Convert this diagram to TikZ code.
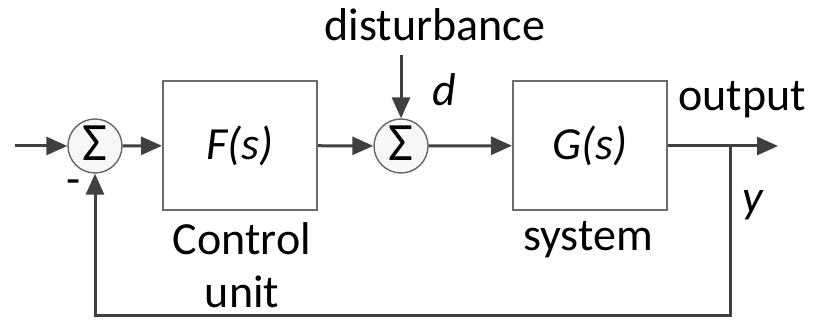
\documentclass[tikz,border=0pt]{standalone}
\usepackage{fontspec}
\setmainfont{Carlito}
\usetikzlibrary{arrows.meta}
\begin{document}
\begin{tikzpicture}[x=1pt,y=-1pt,
  lbl/.style={font=\fontsize{46}{52}\selectfont, text=black, inner sep=0pt},
  ilbl/.style={lbl, font=\fontsize{46}{52}\selectfont\itshape},
  sumnode/.style={circle, draw=gray!80!black, line width=1.4pt, fill=gray!6, minimum size=54pt, inner sep=0pt, font=\fontsize{54}{56}\selectfont},
  blockbox/.style={draw=gray!85!black, line width=2pt, minimum width=154pt, minimum height=129pt, inner sep=0pt},
  sig/.style={draw=black!75, line width=3pt, -{Triangle[length=21pt,width=18pt]}}
]
\useasboundingbox (0,0) rectangle (816,320);
% nodes
\coordinate (in) at (15,146);
\node[sumnode] (s1) at (95,146) {};
\node[inner sep=0pt, font=\fontsize{54}{56}\selectfont] (s1t) at (95,143) {Σ};
\node[blockbox] (F) at (240,145.5) {};
\node[ilbl] (Ft) at (240,146) {F(s)};
\node[sumnode] (s2) at (401,146) {};
\node[inner sep=0pt, font=\fontsize{54}{56}\selectfont] (s2t) at (401,143) {Σ};
\node[blockbox] (G) at (590,145.5) {};
\node[ilbl] (Gt) at (590,146) {G(s)};
\coordinate (br) at (730,146);
\coordinate (out) at (778,146);
\coordinate (bl) at (730,315);
\coordinate (fl) at (95,315);
\coordinate (dtop) at (401,55);
% labels
\node[lbl] (dist) at (435,25) {disturbance};
\node[ilbl] (d) at (444,90) {d};
\node[lbl] (outp) at (742,100) {output};
\node[ilbl] (y) at (753,205) {y};
\node[lbl] (sys) at (588,240) {system};
\node[lbl] (ctl) at (242,239) {Control};
\node[lbl] (unit) at (242,292) {unit};
\node[lbl] (minus) at (74,187) {-};
% connectors
\draw[sig] (in) -- (s1);
\draw[sig] (s1) -- (F);
\draw[sig] (F) -- (s2);
\draw[sig] (dtop) -- (s2);
\draw[sig] (s2) -- (G);
\draw[sig] (G.east |- br) -- (out);
\draw[sig] (br) -- (bl) -- (fl) -- (s1);
\end{tikzpicture}
\end{document}
